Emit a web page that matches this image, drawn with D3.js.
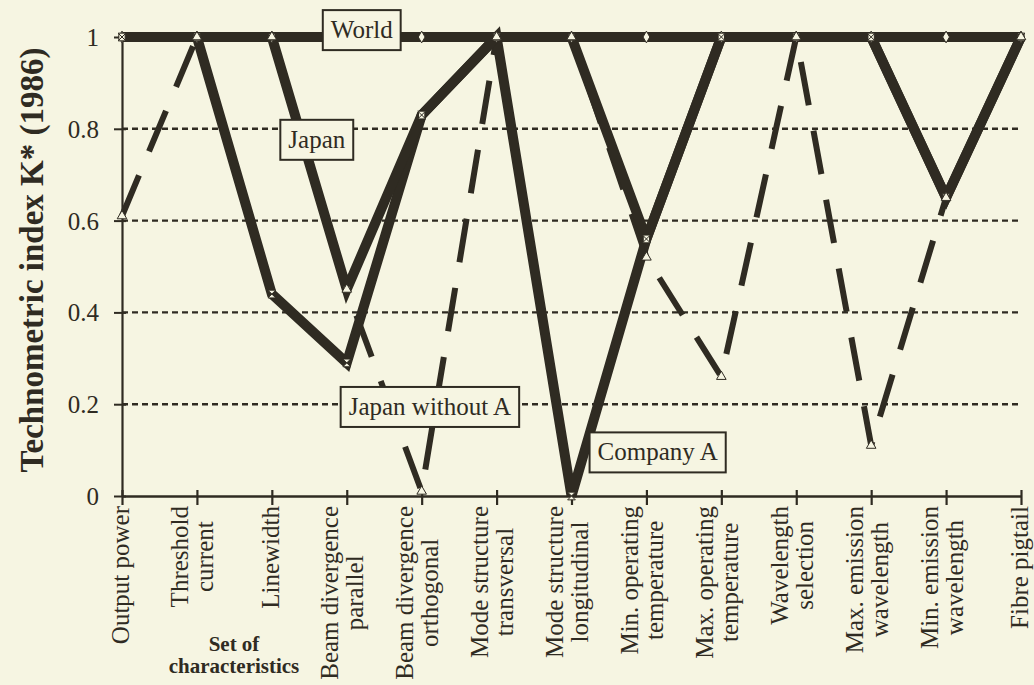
<!DOCTYPE html>
<html>
<head>
<meta charset="utf-8">
<script src="https://cdn.jsdelivr.net/npm/d3@7"></script>
<style>
  html, body { margin: 0; padding: 0; background: #f6f5e2; }
  svg { display: block; }
  text { font-family: "Liberation Serif", "Times New Roman", serif; fill: #2f2b22; }
</style>
</head>
<body>
<svg id="chart" width="1034" height="685"></svg>
<script>
// ---------------- data ----------------
const categories = [
  "Output power", "Threshold\ncurrent", "Linewidth", "Beam divergence\nparallel",
  "Beam divergence\northogonal", "Mode structure\ntransversal", "Mode structure\nlongitudinal",
  "Min. operating\ntemperature", "Max. operating\ntemperature", "Wavelength\nselection",
  "Max. emission\nwavelength", "Min. emission\nwavelength", "Fibre pigtail"
];
const world         = [1, 1, 1, 1, 1, 1, 1, 1, 1, 1, 1, 1, 1];
const japan         = [1, 1, 1, 0.45, 0.83, 1, 1, 0.56, 1, 1, 1, 0.65, 1];
const companyA      = [1, 1, 0.44, 0.29, 0.83, 1, 0, 0.56, 1, 1, 1, 0.65, 1];
const japanWithoutA = [0.61, 1, 1, 0.45, 0.01, 1, 1, 0.52, 0.26, 1, 0.11, 0.65, 1];
const yTicks      = [0, 0.2, 0.4, 0.6, 0.8, 1];
const yTickLabels = ["0", "0.2", "0.4", "0.6", "0.8", "1"];
const gridValues  = [0.2, 0.4, 0.6, 0.8];
const yTitle = "Technometric index K* (1986)";
const xTitle = ["Set of", "characteristics"];
const seriesNames = ["World", "Japan", "Japan without A", "Company A"];

// ---------------- layout ----------------
const INK = "#2f2b22";
const BG = "#f6f5e2";
const svg = d3.select("#chart");
svg.append("rect").attr("width", 1034).attr("height", 685).attr("fill", BG);

const x = d3.scaleLinear().domain([0, categories.length - 1]).range([122, 1021]);
const y = d3.scaleLinear().domain([0, 1]).range([496, 37]);

// grid
svg.append("g").selectAll("line").data(gridValues).join("line")
  .attr("x1", x(0)).attr("x2", x(categories.length - 1))
  .attr("y1", d => y(d)).attr("y2", d => y(d))
  .attr("stroke", INK).attr("stroke-width", 2.4).attr("stroke-dasharray", "6,4");

// x axis
const xAxis = svg.append("g").attr("transform", `translate(0,${y(0)})`)
  .call(d3.axisBottom(x).tickValues(d3.range(categories.length)).tickSize(9).tickSizeOuter(0).tickFormat(""));
xAxis.select(".domain").attr("stroke", INK).attr("stroke-width", 2.5);
xAxis.selectAll(".tick line").attr("stroke", INK).attr("stroke-width", 2.2).attr("y1", -6);

// y axis
const yAxis = svg.append("g").attr("transform", `translate(${x(0)},0)`)
  .call(d3.axisLeft(y).tickValues(yTicks).tickSize(8).tickSizeOuter(0).tickPadding(15)
    .tickFormat((d, i) => yTickLabels[i]));
yAxis.select(".domain").attr("stroke", INK).attr("stroke-width", 2.2);
yAxis.selectAll(".tick line").attr("stroke", INK).attr("stroke-width", 2).attr("x1", 4);
yAxis.selectAll(".tick text").attr("font-size", 25).attr("fill", INK)
  .style("font-family", '"Liberation Serif", serif').attr("dy", "0.34em");

// x tick labels (rotated, multi-line)
const lh = 25;
categories.forEach((c, i) => {
  const lines = c.split("\n");
  const g = svg.append("g").attr("transform", `translate(${x(i)},0) rotate(-90)`);
  const texts = lines.map((ln, k) => g.append("text")
    .attr("font-size", 25)
    .attr("text-anchor", "middle")
    .attr("y", (k - (lines.length - 1) / 2) * lh + (lines.length === 1 ? 7 : 4))
    .text(ln));
  const L = d3.max(texts, t => t.node().getComputedTextLength());
  texts.forEach(t => t.attr("x", -(506 + L / 2)));
});

// axis titles
svg.append("text")
  .attr("transform", `translate(43,260) rotate(-90)`)
  .attr("text-anchor", "middle").attr("font-size", 33).attr("font-weight", "bold")
  .text(yTitle);
xTitle.forEach((t, k) => svg.append("text")
  .attr("x", 234).attr("y", 651 + k * 22)
  .attr("text-anchor", "middle").attr("font-size", 21).attr("font-weight", "bold")
  .text(t));

// series lines
const line = d3.line().x((d, i) => x(i)).y(d => y(d));
svg.append("path").datum(japanWithoutA).attr("d", line)
  .attr("fill", "none").attr("stroke", INK).attr("stroke-width", 6)
  .attr("stroke-dasharray", "44,26");
svg.append("path").datum(companyA).attr("d", line)
  .attr("fill", "none").attr("stroke", INK).attr("stroke-width", 10);
svg.append("path").datum(japan).attr("d", line)
  .attr("fill", "none").attr("stroke", INK).attr("stroke-width", 10);
svg.append("path").datum(world).attr("d", line)
  .attr("fill", "none").attr("stroke", INK).attr("stroke-width", 10);

// markers
const hourglass = { draw(ctx, size) { const r = Math.sqrt(size) / 2; ctx.moveTo(-r, -r); ctx.lineTo(r, -r); ctx.lineTo(-r, r); ctx.lineTo(r, r); ctx.closePath(); } };
function markers(data, type, size) {
  svg.append("g").selectAll("path").data(data).join("path")
    .attr("transform", (d, i) => `translate(${x(i)},${y(d)})`)
    .attr("d", d3.symbol().type(type).size(size))
    .attr("fill", BG).attr("stroke", INK).attr("stroke-width", 1);
}
markers(world, d3.symbolDiamond, 40);
markers(japan, d3.symbolSquare, 40);
markers(companyA, hourglass, 60);
markers(japanWithoutA, d3.symbolTriangle, 40);

// labels in boxes (positions in index/value space)
const boxes = [
  { name: seriesNames[0], cx: 3.2,  cy: 1.015 },
  { name: seriesNames[1], cx: 2.6,  cy: 0.776 },
  { name: seriesNames[2], cx: 4.11, cy: 0.194 },
  { name: seriesNames[3], cx: 7.15, cy: 0.095 }
];
boxes.forEach(b => {
  const g = svg.append("g");
  const r = g.append("rect");
  const t = g.append("text").attr("x", x(b.cx)).attr("y", y(b.cy) + 8)
    .attr("text-anchor", "middle").attr("font-size", 25).text(b.name);
  const w = t.node().getComputedTextLength() + 16;
  r.attr("x", x(b.cx) - w / 2).attr("y", y(b.cy) - 20).attr("width", w).attr("height", 40)
    .attr("fill", BG).attr("stroke", INK).attr("stroke-width", 2);
});
</script>
</body>
</html>
